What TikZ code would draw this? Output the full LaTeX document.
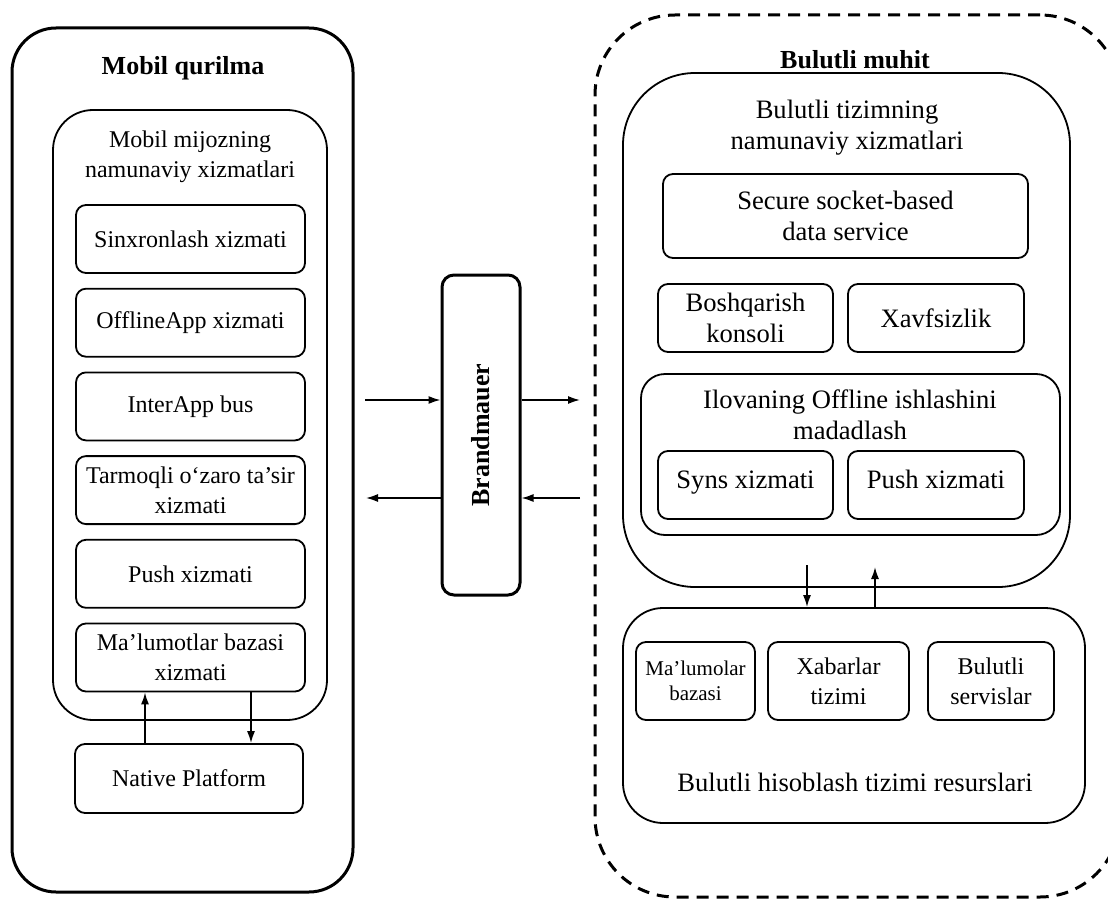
\documentclass[tikz,border=0pt]{standalone}
\usepackage{fontspec}
\setmainfont{Liberation Serif}
\usetikzlibrary{arrows.meta}

\begin{document}
\begin{tikzpicture}[x=1pt,y=-1pt,font=\fontsize{12}{15}\selectfont,
  shell/.style={draw,line width=1.5pt,rounded corners=#1},
  panel/.style={draw,line width=0.9pt,rounded corners=#1},
  srv/.style 2 args={draw,line width=0.9pt,rounded corners=5pt,align=center,inner sep=1pt,minimum width=#1,minimum height=#2},
  big/.style={font=\fontsize{13.3}{15.3}\selectfont},
  ttl/.style={font=\fontsize{13}{15}\selectfont\bfseries},
  fl/.style={-{Latex[length=6pt,width=4pt]},line width=0.8pt}]
  \useasboundingbox (0,0) rectangle (554,449.5);

  \node[shell=22pt,minimum width=170.5pt,minimum height=432pt] (mobil) at (91.25,230) {};
  \node[ttl] (mobilT) at (91.5,34) {Mobil qurilma};
  \node[panel=20pt,minimum width=137pt,minimum height=305pt] (mijoz) at (95,207.5) {};
  \node[align=center] (mijozT) at (95,78.5) {Mobil mijozning\\namunaviy xizmatlari};
  \node[srv={114.5pt}{34pt}] (sinx) at (95.25,119.5) {Sinxronlash xizmati};
  \node[srv={114.5pt}{34pt}] (offl) at (95.25,161.35) {OfflineApp xizmati};
  \node[srv={114.5pt}{34pt}] (inter) at (95.25,203.2) {InterApp bus};
  \node[srv={114.5pt}{34pt}] (tarm) at (95.25,245.05) {Tarmoqli o‘zaro ta’sir\\xizmati};
  \node[srv={114.5pt}{34pt}] (push) at (95.25,286.9) {Push xizmati};
  \node[srv={114.5pt}{34pt}] (mbaza) at (95.25,328.75) {Ma’lumotlar bazasi\\xizmati};
  \node[srv={114pt}{34.5pt}] (native) at (94.5,389.25) {Native Platform};
  \coordinate (nUp) at (72.5,0);
  \coordinate (nDn) at (125.5,0);
  \draw[fl] (native.north -| nUp) -- (mbaza.south -| nUp);
  \draw[fl] (mbaza.south -| nDn) -- (native.north -| nDn);

  \node[shell=6pt,minimum width=39pt,minimum height=160pt] (brand) at (240.5,217.5) {\rotatebox{90}{\fontsize{13}{15}\selectfont\bfseries Brandmauer}};
  \coordinate (lIn) at (182.5,200);
  \coordinate (rOut) at (290,200);
  \coordinate (lOut) at (183,249);
  \coordinate (rIn) at (290,249);
  \draw[fl] (lIn) -- (lIn -| brand.west);
  \draw[fl] (brand.east |- rOut) -- (rOut);
  \draw[fl] (rIn) -- (rIn -| brand.east);
  \draw[fl] (lOut -| brand.west) -- (lOut);

  \node[shell=40pt,dash pattern=on 6pt off 4pt,minimum width=262.5pt,minimum height=441pt] (bulut) at (428.75,228) {};
  \node[ttl] (bulutT) at (427.5,30) {Bulutli muhit};
  \node[panel=36pt,minimum width=223.5pt,minimum height=257pt] (tizim) at (423.25,165) {};
  \node[big,align=center] (tizimT) at (423.5,63.75) {Bulutli tizimning\\namunaviy xizmatlari};
  \node[big,srv={182.5pt}{42pt}] (secure) at (422.75,108) {Secure socket-based\\data service};
  \node[big,srv={87.5pt}{34pt}] (bosh) at (372.75,159) {Boshqarish\\konsoli};
  \node[big,srv={88pt}{34pt}] (xavf) at (468,159) {Xavfsizlik};
  \node[panel=12pt,minimum width=209.5pt,minimum height=80.5pt] (ilova) at (425.25,227.25) {};
  \node[big,align=center] (ilovaT) at (425,207.5) {Ilovaning Offline ishlashini\\madadlash};
  \node[big,srv={87.5pt}{34pt},text height=9pt,text depth=6pt] (syns) at (372.75,242.5) {Syns xizmati};
  \node[big,srv={88pt}{34pt},text height=9pt,text depth=6pt] (pushB) at (468,242.5) {Push xizmati};

  \node[panel=20pt,minimum width=231pt,minimum height=107.5pt] (resurs) at (427,357.75) {};
  \node[srv={59.5pt}{39pt},font=\fontsize{10.5}{12.5}\selectfont] (baza) at (347.75,340.5) {Ma’lumolar\\bazasi};
  \node[srv={70.5pt}{39pt}] (xabar) at (419.25,340.5) {Xabarlar\\tizimi};
  \node[srv={63pt}{39pt}] (servis) at (495.5,340.5) {Bulutli\\servislar};
  \node[big] (resursT) at (427.5,391) {Bulutli hisoblash tizimi resurslari};
  \coordinate (cDn) at (403.5,282.5);
  \coordinate (cUp) at (437.5,283.5);
  \draw[fl] (cDn) -- (cDn |- resurs.north);
  \draw[fl] (cUp |- resurs.north) -- (cUp);
\end{tikzpicture}
\end{document}
